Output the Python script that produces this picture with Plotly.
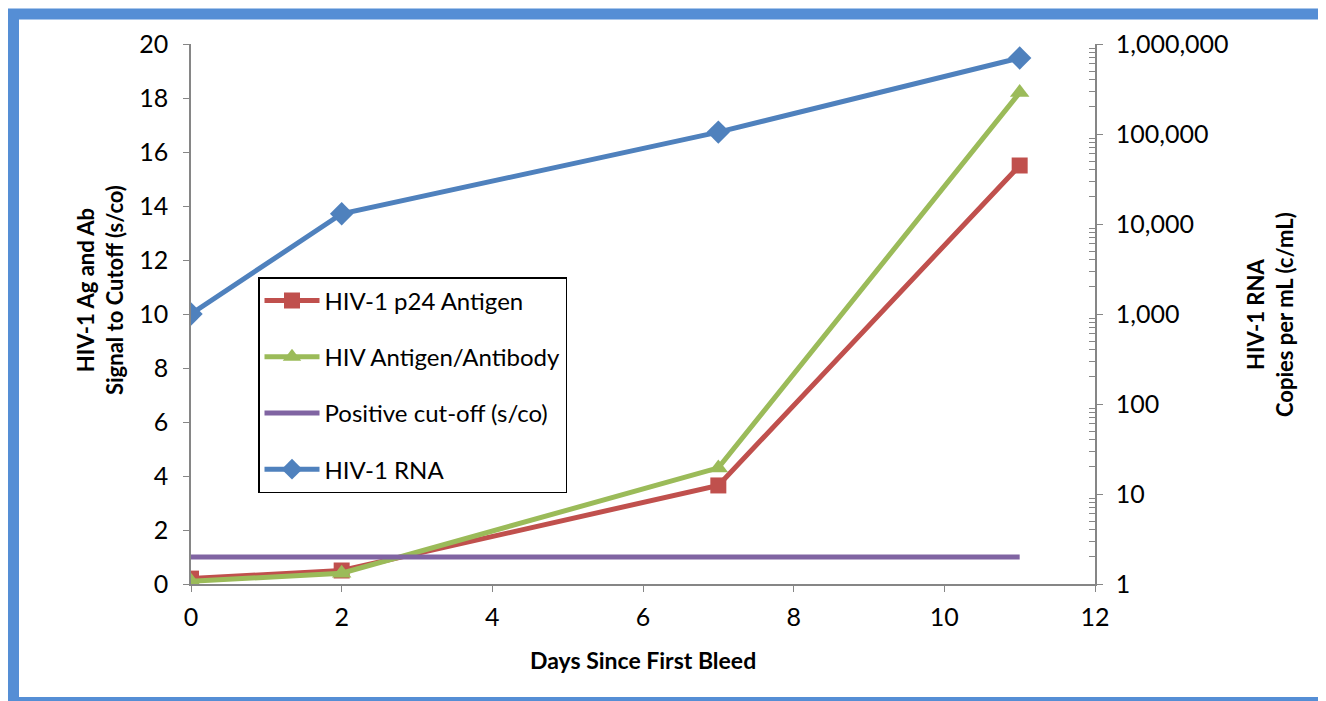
import plotly.graph_objects as go

days = [0, 2, 7, 11]
p24 = [0.2, 0.5, 3.65, 15.5]
agab = [0.1, 0.4, 4.3, 18.2]
cutoff_days = [0, 11]
cutoff = [1, 1]
rna = [1000, 13000, 105000, 700000]

rna_ticks = [1, 10, 100, 1000, 10000, 100000, 1000000]
rna_ticktext = ["1", "10", "100", "1,000", "10,000", "100,000", "1,000,000"]
minor_vals = [m * d for d in rna_ticks[:-1] for m in range(2, 10)]

FONT = "Lato"
fig = go.Figure()
fig.add_trace(go.Scatter(x=days, y=p24, name="HIV-1 p24 Antigen", mode="lines+markers",
                         line=dict(color="#C0504D", width=5),
                         marker=dict(symbol="square", size=16, color="#C0504D"),
                         legendgroup="a"))
fig.add_trace(go.Scatter(x=days, y=agab, name="HIV Antigen/Antibody", mode="lines+markers",
                         line=dict(color="#9BBB59", width=5),
                         marker=dict(symbol="triangle-up", size=17, color="#9BBB59"),
                         legendgroup="b"))
fig.add_trace(go.Scatter(x=cutoff_days, y=cutoff, name="Positive cut-off (s/co)", mode="lines",
                         line=dict(color="#8064A2", width=5),
                         legendgroup="c"))
fig.add_trace(go.Scatter(x=days, y=rna, name="HIV-1 RNA", mode="lines+markers", yaxis="y2",
                         line=dict(color="#4F81BD", width=5),
                         marker=dict(symbol="diamond", size=18, color="#4F81BD"),
                         legendgroup="d"))

axis_col = "#868686"
TICK = 25
# page body has an 8px margin, so the figure is 8px smaller and everything is shifted by -8
fig.update_layout(
    width=1318, height=693,
    margin=dict(l=183, r=231, t=36, b=117),
    paper_bgcolor="white", plot_bgcolor="white",
    font=dict(family=FONT, size=TICK, color="black"),
    showlegend=True,
    legend=dict(x=(258 - 191) / 904, y=(584 - 277) / 540, xanchor="left", yanchor="top",
                bordercolor="black", borderwidth=1.5, bgcolor="white",
                font=dict(family=FONT, size=24), tracegroupgap=22,
                traceorder="grouped", itemwidth=55),
    xaxis=dict(range=[0, 12], dtick=2, tick0=0, showgrid=False, zeroline=False,
               showline=True, linecolor=axis_col, linewidth=1.5,
               ticks="outside", ticklen=6, tickcolor=axis_col, ticklabelstandoff=4,
               tickfont=dict(size=TICK)),
    yaxis=dict(range=[0, 20], dtick=2, showgrid=False, zeroline=False,
               showline=True, linecolor=axis_col, linewidth=1.5,
               ticks="outside", ticklen=6, tickcolor=axis_col, ticklabelstandoff=10,
               tickfont=dict(size=TICK)),
    yaxis2=dict(type="log", range=[0, 6], overlaying="y", side="right",
                showgrid=False, zeroline=False,
                showline=True, linecolor=axis_col, linewidth=1.5,
                tickmode="array", tickvals=rna_ticks, ticktext=rna_ticktext,
                ticks="outside", ticklen=6, tickcolor=axis_col, ticklabelstandoff=8,
                minor=dict(tickmode="array", tickvals=minor_vals, ticks="inside",
                           ticklen=6, tickcolor=axis_col, showgrid=False),
                tickfont=dict(size=TICK)),
)

fig.add_annotation(text="<b>HIV-1 Ag and Ab<br>Signal to Cutoff (s/co)</b>", xref="paper", yref="paper",
                   x=(100 - 191) / 904, y=(584 - 290) / 540, textangle=-90, showarrow=False,
                   font=dict(family=FONT, size=22), xanchor="center", yanchor="middle")
fig.add_annotation(text="<b>HIV-1 RNA<br>Copies per mL (c/mL)</b>", xref="paper", yref="paper",
                   x=(1270 - 191) / 904, y=(584 - 315) / 540, textangle=-90, showarrow=False,
                   font=dict(family=FONT, size=22), xanchor="center", yanchor="middle")
fig.add_annotation(text="<b>Days Since First Bleed</b>", xref="paper", yref="paper",
                   x=(643 - 191) / 904, y=(584 - 660) / 540, showarrow=False,
                   font=dict(family=FONT, size=23), xanchor="center", yanchor="middle")

fig.add_shape(type="rect", xref="paper", yref="paper",
              x0=(13.5 - 191) / 904, x1=(1324.5 - 191) / 904,
              y0=(584 - 702.5) / 540, y1=(584 - 14) / 540,
              line=dict(color="#558ED5", width=11), fillcolor="rgba(0,0,0,0)")

fig.write_html("out.html")
